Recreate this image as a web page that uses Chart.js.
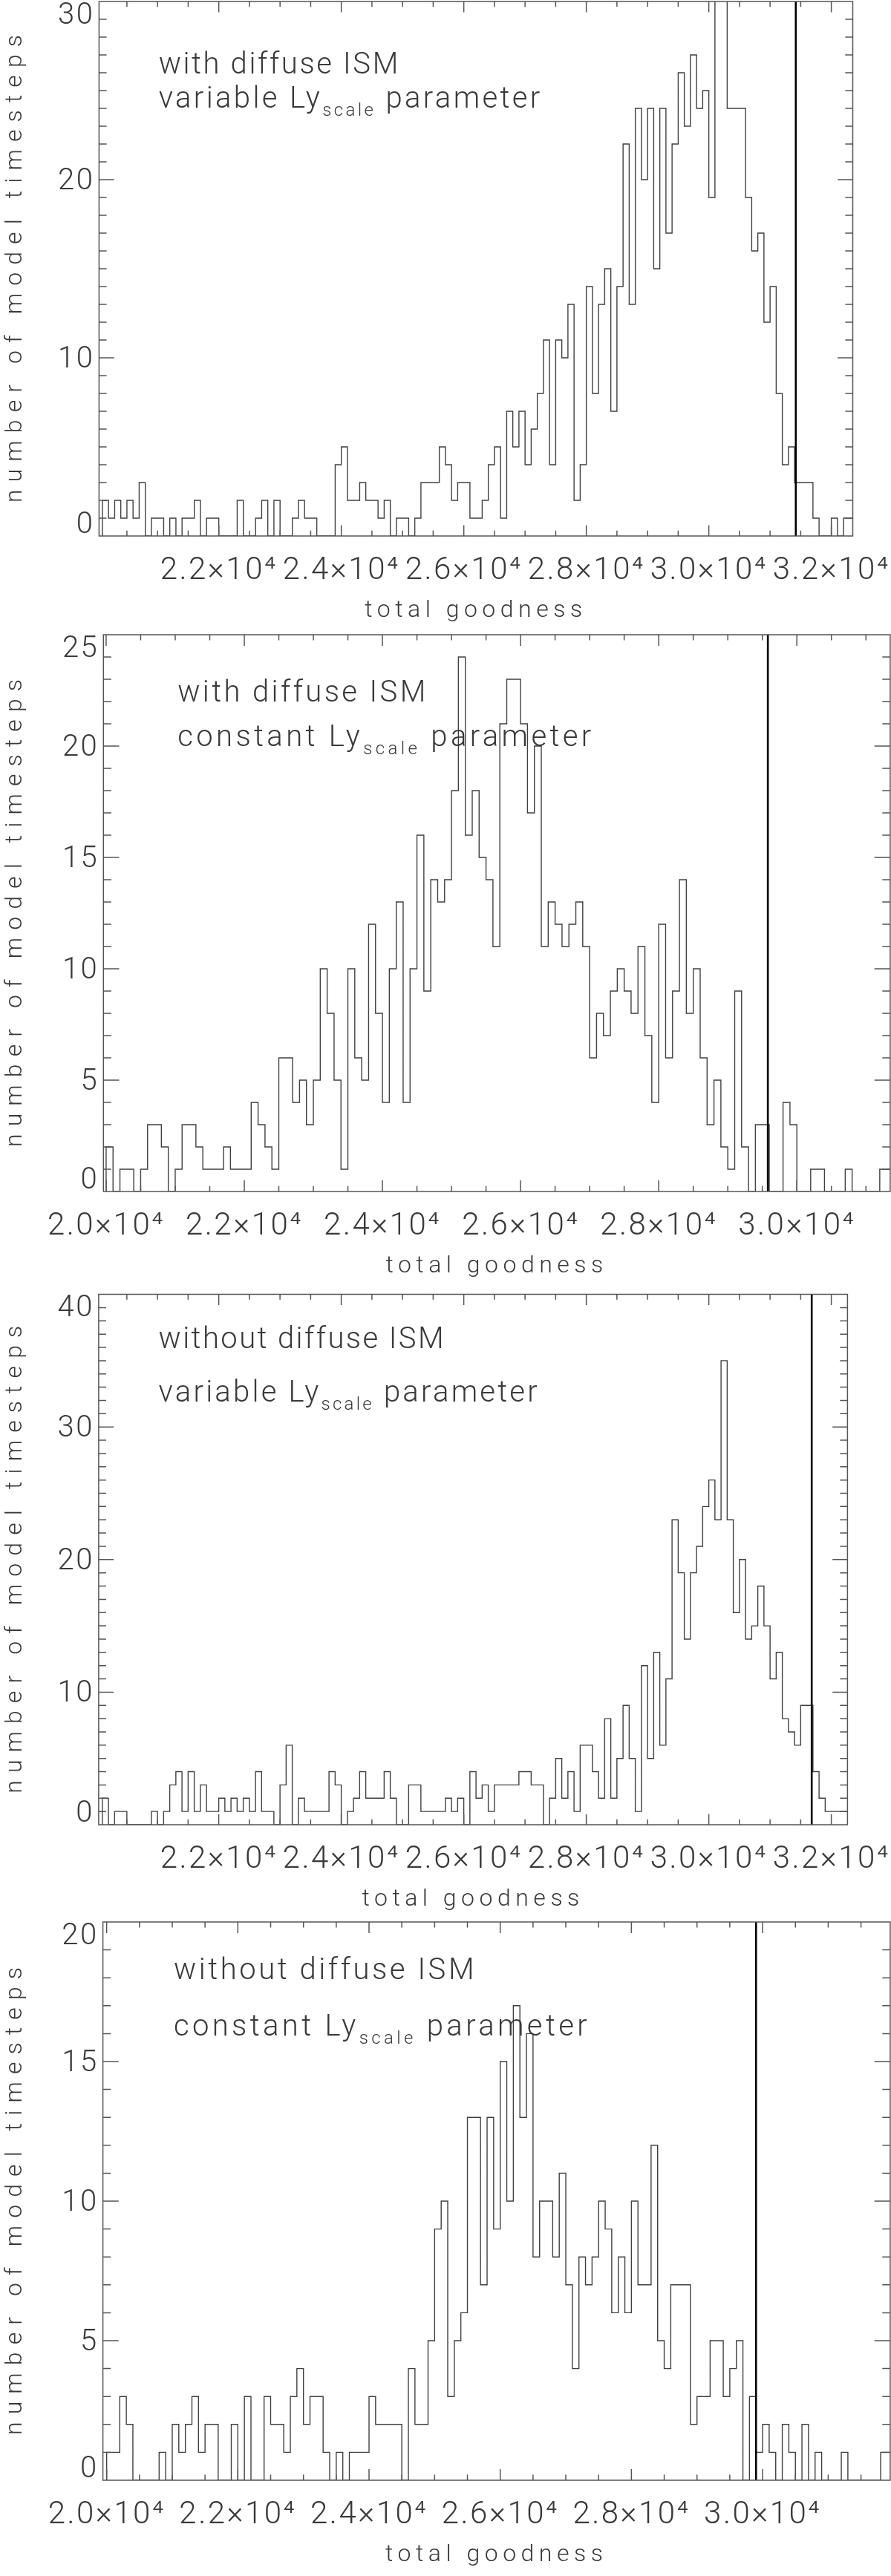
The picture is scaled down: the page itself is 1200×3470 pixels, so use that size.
<!DOCTYPE html>
<html lang="en">
<head>
<meta charset="utf-8">
<title>total goodness histograms</title>
<script src="https://cdn.jsdelivr.net/npm/chart.js@4.4.1/dist/chart.umd.min.js"></script>
<style>
  html, body { margin: 0; padding: 0; background: #ffffff; }
  body { position: relative; width: 1200px; height: 3470px; overflow: hidden; }
  .panel { position: absolute; left: 0; }
  .panel canvas { display: block; }
</style>
</head>
<body>
<div class="panel" style="top:0px"><canvas id="hist1" width="1200" height="842"></canvas></div>
<div class="panel" style="top:840px"><canvas id="hist2" width="1200" height="885"></canvas></div>
<div class="panel" style="top:1729px"><canvas id="hist3" width="1200" height="849"></canvas></div>
<div class="panel" style="top:2574px"><canvas id="hist4" width="1200" height="887"></canvas></div>
<script>
const FONT = "Roboto, 'DejaVu Sans', sans-serif";
const INK = '#3a3a3a';
const AXIS = '#555555';

const binWidth = 100;
const xTickValues = [20000, 22000, 24000, 26000, 28000, 30000, 32000];
const xTitle = 'total goodness';
const yTitle = 'number of model timesteps';

// with diffuse ISM, variable Ly_scale
const start1 = 20100;
const counts1 = [
    2, 1, 2, 1, 2, 1, 3, 0, 1,
    1, 0, 1, 0, 1, 1, 2, 0, 1, 1,
    0, 0, 0, 2, 0, 0, 1, 2, 0, 2,
    0, 0, 1, 2, 1, 1, 0, 0, 0, 4,
    5, 2, 2, 3, 2, 2, 1, 2, 0, 1,
    1, 0, 1, 3, 3, 3, 5, 4, 2, 3,
    3, 1, 1, 2, 4, 5, 1, 7, 5, 7,
    4, 6, 8, 11, 4, 11, 10, 13, 2, 4,
    14, 8, 13, 15, 7, 14, 22, 13, 24, 20,
    24, 15, 24, 17, 22, 26, 23, 27, 24, 25,
    19, 31, 32, 24, 24, 24, 19, 16, 17, 12,
    14, 8, 4, 5, 3, 3, 3, 1, 0, 0,
    1, 0, 1, 1
];
const marker1 = 31420;

// with diffuse ISM, constant Ly_scale
const start2 = 20000;
const counts2 = [
    2, 0, 1, 1, 0, 1, 3, 3, 2, 0,
    1, 3, 3, 2, 1, 1, 1, 2, 1, 1,
    1, 4, 3, 2, 1, 6, 6, 4, 5, 3,
    5, 10, 8, 5, 1, 10, 6, 5, 12, 8,
    4, 10, 13, 4, 10, 16, 9, 14, 13, 14,
    18, 24, 16, 18, 15, 14, 11, 21, 23, 23,
    21, 17, 20, 11, 13, 12, 11, 12, 13, 11,
    6, 8, 7, 9, 10, 9, 8, 11, 7, 4,
    12, 6, 9, 14, 8, 10, 6, 3, 5, 2,
    1, 9, 2, 0, 3, 3, 0, 0, 4, 3,
    0, 0, 1, 1, 0, 0, 0, 1, 0, 0,
    0, 0, 1, 1
];
const marker2 = 29580;

// without diffuse ISM, variable Ly_scale
const start3 = 20100;
const counts3 = [
    2, 0, 1, 1, 0, 0, 0, 0, 1,
    0, 1, 3, 4, 1, 4, 1, 3, 1, 1,
    2, 1, 2, 1, 2, 1, 4, 1, 1, 0,
    3, 6, 0, 2, 1, 1, 1, 1, 4, 3,
    0, 1, 2, 4, 2, 2, 2, 4, 2, 0,
    0, 3, 3, 1, 1, 1, 1, 2, 1, 2,
    0, 4, 2, 3, 1, 3, 3, 3, 3, 4,
    4, 3, 3, 0, 2, 5, 2, 4, 1, 6,
    6, 4, 2, 8, 2, 5, 9, 5, 1, 12,
    5, 13, 6, 11, 23, 19, 14, 19, 21, 24,
    26, 23, 35, 23, 16, 20, 14, 15, 18, 15,
    11, 13, 8, 7, 6, 9, 9, 4, 2, 1,
    1, 1, 1
];
const marker3 = 31680;

// without diffuse ISM, constant Ly_scale
const start4 = 20000;
const counts4 = [
    1, 1, 3, 2, 0, 0, 0, 0, 1, 0,
    2, 1, 2, 3, 1, 2, 2, 0, 0, 2,
    0, 3, 0, 0, 3, 2, 2, 1, 3, 4,
    2, 3, 3, 1, 0, 1, 0, 1, 1, 1,
    3, 2, 2, 2, 2, 0, 4, 2, 2, 5,
    9, 10, 3, 5, 6, 13, 13, 7, 13, 9,
    15, 10, 17, 13, 16, 8, 10, 10, 8, 11,
    7, 4, 8, 7, 8, 10, 9, 6, 8, 6,
    10, 7, 7, 12, 5, 4, 7, 7, 7, 2,
    3, 3, 5, 5, 3, 4, 5, 0, 3, 1,
    2, 1, 0, 2, 1, 0, 2, 0, 1, 0,
    0, 0, 1, 0, 0, 0, 0, 0, 1, 1
];
const marker4 = 29900;

function histPoints(start, counts) {
    const pts = [{x: start, y: 0}];
    counts.forEach((c, i) => pts.push({x: start + i * binWidth, y: c}));
    pts.push({x: start + counts.length * binWidth, y: 0});
    return pts;
}

// spread text so that it fills the width measured on the reference
function drawNote(ctx, note) {
    const big = `300 40px ${FONT}`;
    const small = `300 24px ${FONT}`;
    ctx.letterSpacing = '0px';
    let natural = 0, chars = 0;
    for (const p of note.parts) {
        ctx.font = p.sub ? small : big;
        natural += ctx.measureText(p.text).width;
        chars += p.text.length;
    }
    const gap = Math.max(0, (note.end - note.x - natural) / chars);
    let cx = note.x;
    for (const p of note.parts) {
        ctx.font = p.sub ? small : big;
        ctx.letterSpacing = '0px';
        const w = ctx.measureText(p.text).width;
        ctx.letterSpacing = gap.toFixed(2) + 'px';
        ctx.fillText(p.text, cx, note.y + (p.sub ? 11 : 0));
        cx += w + gap * p.text.length;
    }
}

function drawYTitle(ctx, area, cx, length) {
    ctx.save();
    ctx.font = `300 32px ${FONT}`;
    ctx.letterSpacing = '0px';
    const natural = ctx.measureText(yTitle).width;
    const gap = (length - natural) / (yTitle.length - 1);
    ctx.translate(cx, (area.top + area.bottom) / 2);
    ctx.rotate(-Math.PI / 2);
    ctx.letterSpacing = gap.toFixed(2) + 'px';
    ctx.textAlign = 'left';
    ctx.textBaseline = 'middle';
    ctx.fillText(yTitle, -length / 2, 0);
    ctx.restore();
}

// IDL style frame: box with inward major/minor ticks on all four sides
const idlAxes = {
    id: 'idlAxes',
    beforeDraw(chart) { chart.ctx.letterSpacing = '2.5px'; },
    beforeDatasetsDraw(chart) { chart.ctx.letterSpacing = '0px'; },
    afterDatasetsDraw(chart) { chart.ctx.letterSpacing = '6.5px'; },
    afterDraw(chart, args, opts) {
        const ctx = chart.ctx;
        const a = chart.chartArea;
        const xs = chart.scales.x, ys = chart.scales.y;
        const xLen = 0.02 * (a.bottom - a.top);
        const yLen = 0.02 * (a.right - a.left);
        ctx.save();
        ctx.letterSpacing = '0px';
        ctx.strokeStyle = AXIS;
        ctx.lineWidth = 1.5;
        ctx.beginPath();
        for (let v = Math.ceil(xs.min / opts.xMinor) * opts.xMinor; v <= xs.max; v += opts.xMinor) {
            const px = xs.getPixelForValue(v);
            const len = v % opts.xMajor === 0 ? xLen : xLen / 2;
            ctx.moveTo(px, a.bottom); ctx.lineTo(px, a.bottom - len);
            ctx.moveTo(px, a.top); ctx.lineTo(px, a.top + len);
        }
        for (let v = 0; v <= ys.max; v += opts.yMinor) {
            const py = ys.getPixelForValue(v);
            const len = v % opts.yMajor === 0 ? yLen : yLen / 2;
            ctx.moveTo(a.left, py); ctx.lineTo(a.left + len, py);
            ctx.moveTo(a.right, py); ctx.lineTo(a.right - len, py);
        }
        ctx.rect(a.left, a.top, a.right - a.left, a.bottom - a.top);
        ctx.stroke();

        ctx.fillStyle = INK;
        drawYTitle(ctx, a, 21, 630);
        ctx.textAlign = 'left';
        ctx.textBaseline = 'alphabetic';
        (opts.notes || []).forEach(n => drawNote(ctx, n));
        ctx.restore();
    }
};

const panels = [
    {
        id: 'hist1', start: start1, counts: counts1, marker: marker1,
        xMin: 20045, xMax: 32350, yMax: 30, yStep: 10,
        left: 133.4, right: 51.5, top: 2,
        notes: [
            {x: 213.7, y: 99, end: 539, parts: [{text: 'with diffuse ISM'}]},
            {x: 213.7, y: 145.4, end: 730.7, parts: [{text: 'variable Ly'}, {text: 'scale', sub: true}, {text: ' parameter'}]}
        ]
    },
    {
        id: 'hist2', start: start2, counts: counts2, marker: marker2,
        xMin: 19961, xMax: 31351, yMax: 25, yStep: 5,
        left: 139.3, right: 1.1, top: 15,
        notes: [
            {x: 239.3, y: 104.5, end: 576.7, parts: [{text: 'with diffuse ISM'}]},
            {x: 239.3, y: 165, end: 800.7, parts: [{text: 'constant Ly'}, {text: 'scale', sub: true}, {text: ' parameter'}]}
        ]
    },
    {
        id: 'hist3', start: start3, counts: counts3, marker: marker3,
        xMin: 20040, xMax: 32264, yMax: 40, yStep: 10,
        left: 132.9, right: 58.6, top: 14.6,
        notes: [
            {x: 213.6, y: 87.3, end: 600, parts: [{text: 'without diffuse ISM'}]},
            {x: 213.6, y: 158.5, end: 727, parts: [{text: 'variable Ly'}, {text: 'scale', sub: true}, {text: ' parameter'}]}
        ]
    },
    {
        id: 'hist4', start: start4, counts: counts4, marker: marker4,
        xMin: 19943, xMax: 31945, yMax: 20, yStep: 5,
        left: 138.6, right: 1.1, top: 15,
        notes: [
            {x: 234, y: 91.6, end: 642, parts: [{text: 'without diffuse ISM'}]},
            {x: 234, y: 167.7, end: 795, parts: [{text: 'constant Ly'}, {text: 'scale', sub: true}, {text: ' parameter'}]}
        ]
    }
];

panels.forEach(p => {
    new Chart(document.getElementById(p.id), {
        type: 'line',
        data: {
            datasets: [
                {
                    label: 'best model',
                    data: [{x: p.marker, y: 0}, {x: p.marker, y: p.yMax}],
                    borderColor: '#000000',
                    borderWidth: 2.6,
                    pointRadius: 0
                },
                {
                    label: 'timesteps',
                    data: histPoints(p.start, p.counts),
                    stepped: 'before',
                    borderColor: '#404040',
                    borderWidth: 1.4,
                    borderJoinStyle: 'miter',
                    pointRadius: 0,
                    fill: false
                }
            ]
        },
        options: {
            responsive: false,
            animation: false,
            events: [],
            layout: {padding: {top: p.top, right: p.right, left: 0, bottom: 0}},
            plugins: {
                legend: {display: false},
                tooltip: {enabled: false},
                idlAxes: {xMinor: 500, xMajor: 2000, yMinor: 1, yMajor: p.yStep, notes: p.notes}
            },
            scales: {
                x: {
                    type: 'linear',
                    min: p.xMin,
                    max: p.xMax,
                    grid: {display: false, drawTicks: false, z: 1},
                    border: {display: false},
                    afterBuildTicks: s => {
                        s.ticks = xTickValues.filter(v => v >= s.min && v <= s.max).map(v => ({value: v}));
                    },
                    ticks: {
                        autoSkip: false,
                        maxRotation: 0,
                        minRotation: 0,
                        padding: 22,
                        color: INK,
                        font: {family: FONT, size: 42, weight: 300, lineHeight: 1.2},
                        callback: v => (v / 10000).toFixed(1) + '×10⁴'
                    },
                    title: {
                        display: true,
                        text: xTitle,
                        color: INK,
                        padding: {top: 0, bottom: 0},
                        font: {family: FONT, size: 32, weight: 300, lineHeight: 1.2}
                    },
                    afterFit: s => { s.height = 120; s.paddingLeft = 0; s.paddingRight = 0; }
                },
                y: {
                    type: 'linear',
                    min: 0,
                    max: p.yMax,
                    grid: {display: false, drawTicks: false, z: 1},
                    border: {display: false},
                    ticks: {
                        stepSize: p.yStep,
                        autoSkip: false,
                        padding: 6,
                        labelOffset: 3,
                        color: INK,
                        font: {family: FONT, size: 40, weight: 300, lineHeight: 0.83},
                        callback: v => v === p.yMax ? ['', String(v)] : (v === 0 ? [String(v), ''] : String(v))
                    },
                    title: {display: false},
                    afterFit: s => { s.width = p.left; s.paddingTop = 0; s.paddingBottom = 0; }
                }
            }
        },
        plugins: [idlAxes]
    });
});
</script>
</body>
</html>
